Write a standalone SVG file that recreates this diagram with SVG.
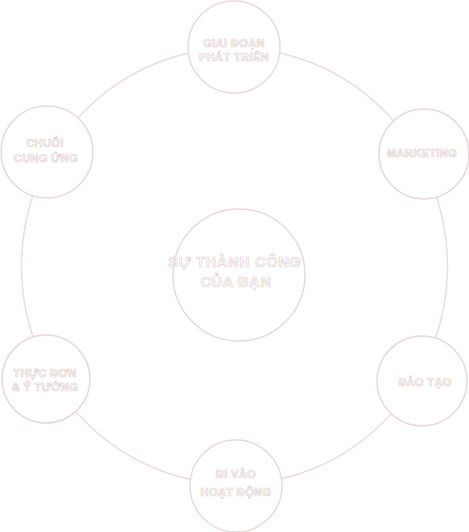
<svg xmlns="http://www.w3.org/2000/svg" width="469" height="532" viewBox="0 0 469 532">
<style>
.ring{fill:none;stroke:#ebdddd;stroke-width:1.5}
.node circle{fill:#ffffff;stroke:#e9dada;stroke-width:1.5}
text{font-family:"Liberation Sans",Arial,sans-serif;font-weight:bold;fill:#ffffff;stroke:#e4d0d0;stroke-width:0.7;text-anchor:middle}
.s{font-size:11px;letter-spacing:0.4px}
.c{font-size:14.5px;letter-spacing:0.7px}
</style>
<rect width="469" height="532" fill="#ffffff"/>
<g id="connectors">
<ellipse class="ring" cx="234.5" cy="266" rx="213" ry="218"/>
</g>
<g id="center" class="node">
<circle cx="239" cy="275" r="66"/>
<text class="c" x="235" y="267">SỰ THÀNH CÔNG</text>
<text class="c" x="236" y="287">CỦA BẠN</text>
</g>
<g id="giai-doan" class="node">
<circle cx="234" cy="47" r="46"/>
<text class="s" x="234" y="47">GIAI ĐOẠN</text>
<text class="s" x="234" y="61">PHÁT TRIỂN</text>
</g>
<g id="marketing" class="node">
<circle cx="424" cy="154" r="45"/>
<text class="s" x="422" y="157">MARKETING</text>
</g>
<g id="dao-tao" class="node">
<circle cx="422" cy="381" r="45"/>
<text class="s" x="425" y="386">ĐÀO TẠO</text>
</g>
<g id="di-vao" class="node">
<circle cx="236" cy="486" r="46"/>
<text class="s" x="236" y="478">ĐI VÀO</text>
<text class="s" x="236" y="496">HOẠT ĐỘNG</text>
</g>
<g id="thuc-don" class="node">
<circle cx="46" cy="379" r="44"/>
<text class="s" x="45" y="377">THỰC ĐƠN</text>
<text class="s" x="45" y="391">&amp; Ý TƯỞNG</text>
</g>
<g id="chuoi" class="node">
<circle cx="47" cy="152" r="46"/>
<text class="s" x="45" y="147">CHUỖI</text>
<text class="s" x="46" y="162">CUNG ỨNG</text>
</g>
</svg>
